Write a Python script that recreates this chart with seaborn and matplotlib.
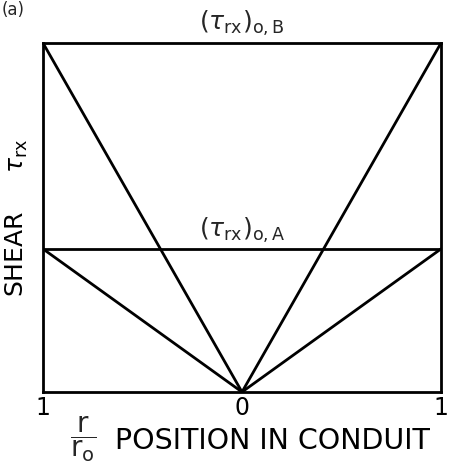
import matplotlib
matplotlib.use("Agg")
import matplotlib.pyplot as plt
import seaborn as sns
import pandas as pd

# Shear distribution across the conduit for two wall shear stresses
position = [-1.0, 0.0, 1.0]          # r/r_o, wall - centre - wall
shear_B = [1.0, 0.0, 1.0]            # (tau_rx)_o,B profile
shear_A = [0.41, 0.0, 0.41]          # (tau_rx)_o,A profile
tau_wall_A = 0.41
tick_pos = [-1.0, 0.0, 1.0]
tick_text = ["1", "0", "1"]

sns.set_theme(style="white")
plt.rcParams["font.family"] = ["DejaVu Sans"]
plt.rcParams["mathtext.fontset"] = "dejavusans"

fig = plt.figure(figsize=(4.49, 4.67), dpi=100)
ax = fig.add_axes([43 / 449, 1 - 392 / 467, (441 - 43) / 449, (392 - 43) / 467])

df = pd.DataFrame({
    "position": position * 2,
    "shear": shear_B + shear_A,
    "case": ["B"] * 3 + ["A"] * 3,
})
sns.lineplot(data=df, x="position", y="shear", units="case", estimator=None,
             color="black", lw=2, ax=ax, legend=False, sort=False)
ax.axhline(tau_wall_A, color="black", lw=2)

ax.set_xlim(-1, 1)
ax.set_ylim(0, 1)
ax.set_xticks(tick_pos)
ax.set_xticklabels(tick_text, fontsize=17)
ax.set_yticks([])
ax.tick_params(axis="x", length=0, pad=3, colors="black")
for s in ax.spines.values():
    s.set_color("black")
    s.set_linewidth(2)

# x label: the r/r_o fraction sits left of the words
ax.set_xlabel("POSITION IN CONDUIT", fontsize=20.5, color="black")
ax.xaxis.set_label_coords(0.576, -0.100)
ax.text(0.100, -0.136, r"$\dfrac{\mathrm{r}}{\mathrm{r_o}}$", ha="center",
        va="center", fontsize=20, transform=ax.transAxes)

ax.set_ylabel(r"SHEAR     $\tau_{\mathrm{rx}}$", fontsize=18, labelpad=9,
              color="black")

ax.text(0, 1.015, r"$(\tau_{\mathrm{rx}})_{\mathrm{o,B}}$", ha="center",
        va="bottom", fontsize=18, transform=ax.get_xaxis_transform())
ax.text(0, tau_wall_A + 0.01, r"$(\tau_{\mathrm{rx}})_{\mathrm{o,A}}$",
        ha="center", va="bottom", fontsize=18)

fig.text(0.004, 0.998, "(a)", ha="left", va="top", fontsize=12)

fig.savefig("out.png", dpi=100)
